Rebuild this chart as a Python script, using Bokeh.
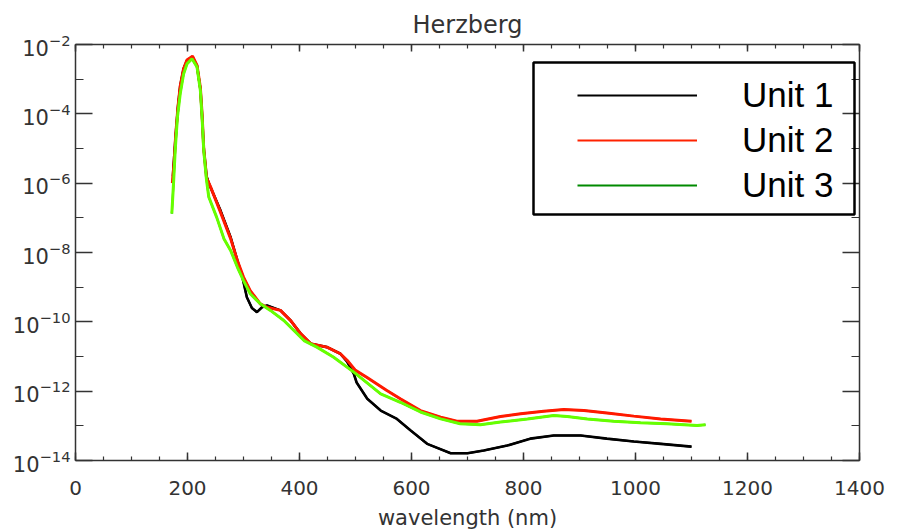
from bokeh.plotting import figure
from bokeh.models import (Range1d, FixedTicker, LinearAxis, LogAxis, Legend, LegendItem,
                          BoxAnnotation, Title, CustomJSTickFormatter)
from bokeh.embed import file_html
from bokeh.resources import INLINE

# Wavelength grid (nm) and log10 of the Herzberg signal for each unit
unit1_nm = [174, 176, 179, 183, 187, 193, 199, 208, 217, 223,
            226, 229, 234, 238, 258, 277, 289, 298, 306, 315,
            324, 333, 342, 366, 384, 402, 420, 449, 473, 485,
            497, 502, 521, 545, 574, 598, 628, 670, 700, 729,
            771, 812, 854, 902, 949, 997, 1045, 1100]
unit1_log = [-5.8, -5.3, -4.6, -3.8, -3.2, -2.7, -2.47, -2.38, -2.62, -3.28,
             -4.05, -5.0, -5.8, -6.0, -6.75, -7.56, -8.23, -8.71, -9.29, -9.6,
             -9.72, -9.58, -9.53, -9.67, -9.96, -10.34, -10.63, -10.73, -10.92, -11.15,
             -11.5, -11.75, -12.22, -12.56, -12.80, -13.13, -13.52, -13.79, -13.79, -13.71,
             -13.57, -13.37, -13.28, -13.28, -13.37, -13.45, -13.52, -13.60]

unit2_nm = [173, 176, 179, 183, 187, 193, 199, 209, 217, 223,
            226, 229, 234, 241, 258, 277, 289, 300, 312, 330,
            342, 366, 384, 402, 420, 449, 473, 485, 500, 520,
            556, 580, 616, 652, 681, 717, 759, 795, 836, 872,
            908, 949, 997, 1045, 1100]
unit2_log = [-6.0, -5.4, -4.6, -3.8, -3.2, -2.7, -2.45, -2.34, -2.6, -3.25,
             -4.0, -5.0, -5.85, -6.1, -6.8, -7.6, -8.23, -8.71, -9.10, -9.48,
             -9.58, -9.67, -9.96, -10.34, -10.63, -10.73, -10.92, -11.11, -11.4, -11.6,
             -11.98, -12.22, -12.56, -12.75, -12.87, -12.87, -12.73, -12.65, -12.58, -12.53,
             -12.56, -12.63, -12.72, -12.80, -12.87]

unit3_nm = [172, 175, 178, 182, 187, 193, 199, 208, 217, 223,
            226, 229, 234, 238, 252, 265, 277, 289, 300, 312,
            330, 348, 372, 390, 408, 431, 461, 497, 545, 580,
            616, 652, 687, 723, 759, 807, 854, 878, 914, 961,
            1009, 1056, 1110, 1125]
unit3_log = [-6.88, -6.02, -5.06, -4.10, -3.42, -2.85, -2.56, -2.41, -2.65, -3.33,
             -4.10, -5.06, -5.92, -6.40, -6.98, -7.6, -7.94, -8.42, -8.81, -9.19,
             -9.48, -9.67, -9.96, -10.25, -10.54, -10.73, -11.02, -11.45, -12.08, -12.32,
             -12.60, -12.80, -12.94, -12.97, -12.89, -12.80, -12.70, -12.73, -12.80, -12.87,
             -12.91, -12.94, -12.99, -12.97]

series_labels = ["Unit 1", "Unit 2", "Unit 3"]
x_ticks = [0, 200, 400, 600, 800, 1000, 1200, 1400]
x_minor = list(range(0, 1401, 50))
y_ticks = [1e-14, 1e-12, 1e-10, 1e-8, 1e-6, 1e-4, 1e-2]
y_minor = [1e-13, 1e-11, 1e-9, 1e-7, 1e-5, 1e-3]

AXIS = "#333333"
TICK_FONT = "DejaVu Sans"

p = figure(width=906, height=532, output_backend="svg", toolbar_location=None,
           y_axis_type="log", x_range=Range1d(0, 1400), y_range=Range1d(1e-14, 1e-2),
           min_border_left=75, min_border_right=47, min_border_top=44, min_border_bottom=72,
           background_fill_color="white", border_fill_color="white")
p.outline_line_color = None
p.xgrid.visible = False
p.ygrid.visible = False

p.title = Title(text="Herzberg", align="center", vertical_align="middle",
                text_font=TICK_FONT, text_font_size="24px", text_font_style="normal",
                text_color=AXIS)

blank = CustomJSTickFormatter(code="return ''")


def style_axis(ax, major_in, minor_in):
    ax.axis_line_color = AXIS
    ax.axis_line_width = 1.5
    ax.major_tick_in = major_in
    ax.major_tick_out = 0
    ax.minor_tick_in = minor_in
    ax.minor_tick_out = 0
    ax.major_tick_line_color = AXIS
    ax.minor_tick_line_color = AXIS
    ax.major_tick_line_width = 1.5
    ax.minor_tick_line_width = 1.2
    ax.major_label_text_font = TICK_FONT
    ax.major_label_text_font_size = "20px"
    ax.major_label_text_color = AXIS


xticker = FixedTicker(ticks=x_ticks, minor_ticks=x_minor)
yticker = FixedTicker(ticks=y_ticks, minor_ticks=y_minor)

xb = p.xaxis[0]
xb.ticker = xticker
style_axis(xb, 8, 4)
xb.major_label_standoff = 20
xb.axis_label = "wavelength (nm)"
xb.axis_label_text_font = TICK_FONT
xb.axis_label_text_font_size = "21px"
xb.axis_label_text_font_style = "normal"
xb.axis_label_text_color = AXIS
xb.axis_label_standoff = 8

yl = p.yaxis[0]
yl.ticker = yticker
style_axis(yl, 17, 8)
yl.major_label_standoff = 5
yl.major_label_text_font_size = "21px"

xt = LinearAxis(ticker=xticker, formatter=blank)
style_axis(xt, 7, 4)
xt.major_label_standoff = 0
p.add_layout(xt, "above")

yr = LogAxis(ticker=yticker, formatter=blank)
style_axis(yr, 17, 8)
yr.major_label_standoff = 0
p.add_layout(yr, "right")

# legend key strokes (thinner, darker green) sit underneath the data curves
k1 = p.line(unit1_nm, [10 ** v for v in unit1_log], line_color="black", line_width=2)
k2 = p.line(unit2_nm, [10 ** v for v in unit2_log], line_color="#ff2200", line_width=2)
k3 = p.line(unit3_nm, [10 ** v for v in unit3_log], line_color="#008a00", line_width=2)

# data curves
p.line(unit1_nm, [10 ** v for v in unit1_log], line_color="black", line_width=2.6)
p.line(unit2_nm, [10 ** v for v in unit2_log], line_color="#ff1a00", line_width=3)
p.line(unit3_nm, [10 ** v for v in unit3_log], line_color="#66ff00", line_width=3)

legend = Legend(items=[LegendItem(label=series_labels[0], renderers=[k1]),
                       LegendItem(label=series_labels[1], renderers=[k2]),
                       LegendItem(label=series_labels[2], renderers=[k3])],
                location=(502, 255), orientation="vertical",
                glyph_width=120, glyph_height=40, label_height=40,
                label_standoff=45, spacing=5, padding=12, margin=0,
                label_text_font="Liberation Sans", label_text_font_size="35px",
                label_text_color="black",
                border_line_color=None, background_fill_alpha=0)
p.add_layout(legend)

frame_box = BoxAnnotation(left=458, right=779, bottom=246, top=398,
                          left_units="screen", right_units="screen",
                          bottom_units="screen", top_units="screen",
                          fill_alpha=0, line_color="black", line_alpha=1,
                          line_width=2.5)
p.add_layout(frame_box)

open("out.html", "w").write(file_html(p, INLINE))
